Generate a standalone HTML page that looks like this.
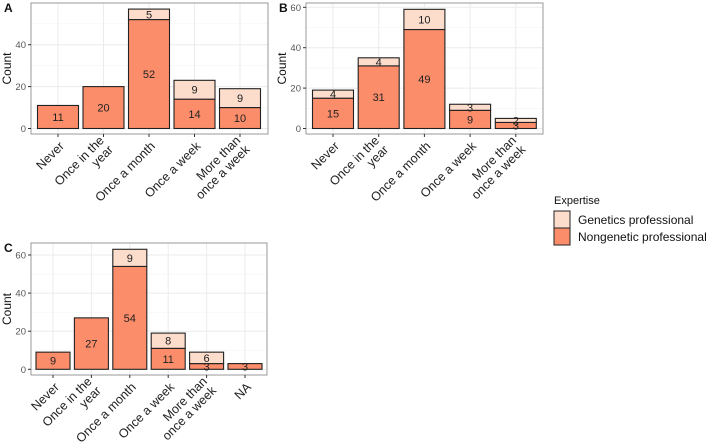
<!DOCTYPE html>
<html><head><meta charset="utf-8"><style>
body{margin:0;background:#fff;}
svg{display:block;font-family:"Liberation Sans",Arial,sans-serif;}
</style></head><body>
<svg id="c" width="709" height="442"></svg>
<script>
const catsAB = ["Never","Once in the|year","Once a month","Once a week","More than|once a week"];
const catsC = ["Never","Once in the|year","Once a month","Once a week","More than|once a week","NA"];
const nonA = [11,20,52,14,10];
const genA = [0,0,5,9,9];
const nonB = [15,31,49,9,3];
const genB = [4,4,10,3,2];
const nonC = [9,27,54,11,3,3];
const genC = [0,0,9,8,6,0];
const ticksA = [0,20,40];
const ticksB = [0,20,40,60];
const ticksC = [0,20,40,60];
const legendLabels = ["Genetics professional","Nongenetic professional"];

const NS="http://www.w3.org/2000/svg";
const svg=document.getElementById('c');
function mk(tag,attrs,parent){const e=document.createElementNS(NS,tag);for(const k in attrs)e.setAttribute(k,attrs[k]);(parent||svg).appendChild(e);return e;}
const GEN="#fcdccb", NON="#fb8d6b";

function panel(letter,cats,non,gen,ticks,box,y0,pxPer,x0,step,bw){
  const g=mk('g',{});
  
  
  const ys=v=>y0-v*pxPer;
  const xs=i=>x0+i*step;
  for(let i=0;i<ticks.length;i++){
    const y=ys(ticks[i]);
    const l=mk('line',{x1:box[0],x2:box[2],y1:y,y2:y,stroke:"#ebebeb","stroke-width":1},g);
    
    
    if(i<ticks.length-1){const ym=ys((ticks[i]+ticks[i+1])/2);mk('line',{x1:box[0],x2:box[2],y1:ym,y2:ym,stroke:"#f3f3f3","stroke-width":0.6},g);}
  }
  const yLast=ys(ticks[ticks.length-1]+10);
  if(yLast>box[1]) mk('line',{x1:box[0],x2:box[2],y1:yLast,y2:yLast,stroke:"#f3f3f3","stroke-width":0.6},g);
  for(let i=0;i<cats.length;i++){mk('line',{x1:xs(i),x2:xs(i),y1:box[1],y2:box[3],stroke:"#ebebeb","stroke-width":1},g);}
  for(let i=0;i<cats.length;i++){
    const x=xs(i)-bw/2;
    const r=mk('rect',{x:x,y:ys(non[i]),width:bw,height:ys(0)-ys(non[i]),fill:NON,stroke:"#222","stroke-width":1.1},g);
    
    
    if(gen[i]>0){
      const r2=mk('rect',{x:x,y:ys(non[i]+gen[i]),width:bw,height:ys(non[i])-ys(non[i]+gen[i]),fill:GEN,stroke:"#222","stroke-width":1.1},g);
      
      
      const t2=mk('text',{x:xs(i),y:ys(non[i]+gen[i]/2)+4,"text-anchor":"middle","font-size":11,fill:"#222"},g);
      t2.textContent=gen[i];
      
      
    }
    const t=mk('text',{x:xs(i),y:ys(non[i]/2)+4,"text-anchor":"middle","font-size":11,fill:"#222"},g);
    t.textContent=non[i];
    
    
  }
  mk('rect',{x:box[0],y:box[1],width:box[2]-box[0],height:box[3]-box[1],fill:"none",stroke:"#999","stroke-width":1},g);
  for(const v of ticks){
    const y=ys(v);
    mk('line',{x1:box[0]-3,x2:box[0],y1:y,y2:y,stroke:"#333"},g);
    const t=mk('text',{x:box[0]-5,y:y+3.5,"text-anchor":"end","font-size":9.5,fill:"#555"},g);
    t.textContent=v;
    
    
  }
  for(let i=0;i<cats.length;i++){
    mk('line',{x1:xs(i),x2:xs(i),y1:box[3],y2:box[3]+3,stroke:"#333"},g);
    const lines=cats[i].split('|');
    const t=mk('text',{transform:`translate(${xs(i)+4},${box[3]+10}) rotate(-45)`,"text-anchor":"end","font-size":12.5,fill:"#222"},g);
    lines.forEach((s,k)=>{const ts=mk('tspan',{x:0,dy:k===0?(lines.length>1?-4:4):13},t);ts.textContent=s;});
    
    
  }
  const yt=mk('text',{transform:`translate(${box[0]-20},${(box[1]+box[3])/2}) rotate(-90)`,"text-anchor":"middle","font-size":12,fill:"#111"},g);
  yt.textContent="Count";
  
  
  const pl=mk('text',{x:box[0]-27,y:box[1]+9,"font-size":12,"font-weight":"bold",fill:"#111"},g);
  pl.textContent=letter;
  
  
}
panel("A",catsAB,nonA,genA,ticksA,[31,3,268,134],128.5,2.095,58,45.5,41);
panel("B",catsAB,nonB,genB,ticksB,[306,3,543,134],128.5,2.02,333,45.7,41);
panel("C",catsC,nonC,genC,ticksC,[31,243,267,375],369.3,1.905,53,38.4,34);

const lt=mk('text',{x:554,y:204,"font-size":11,fill:"#111"});
lt.textContent="Expertise";


[GEN,NON].forEach((c,i)=>{
  const r=mk('rect',{x:554,y:211+i*17,width:16,height:17,fill:c,stroke:"#222","stroke-width":1});
  
  
  const t=mk('text',{x:578,y:224+i*17,"font-size":12,fill:"#111"});
  t.textContent=legendLabels[i];
  
  
});
</script>
</body></html>
